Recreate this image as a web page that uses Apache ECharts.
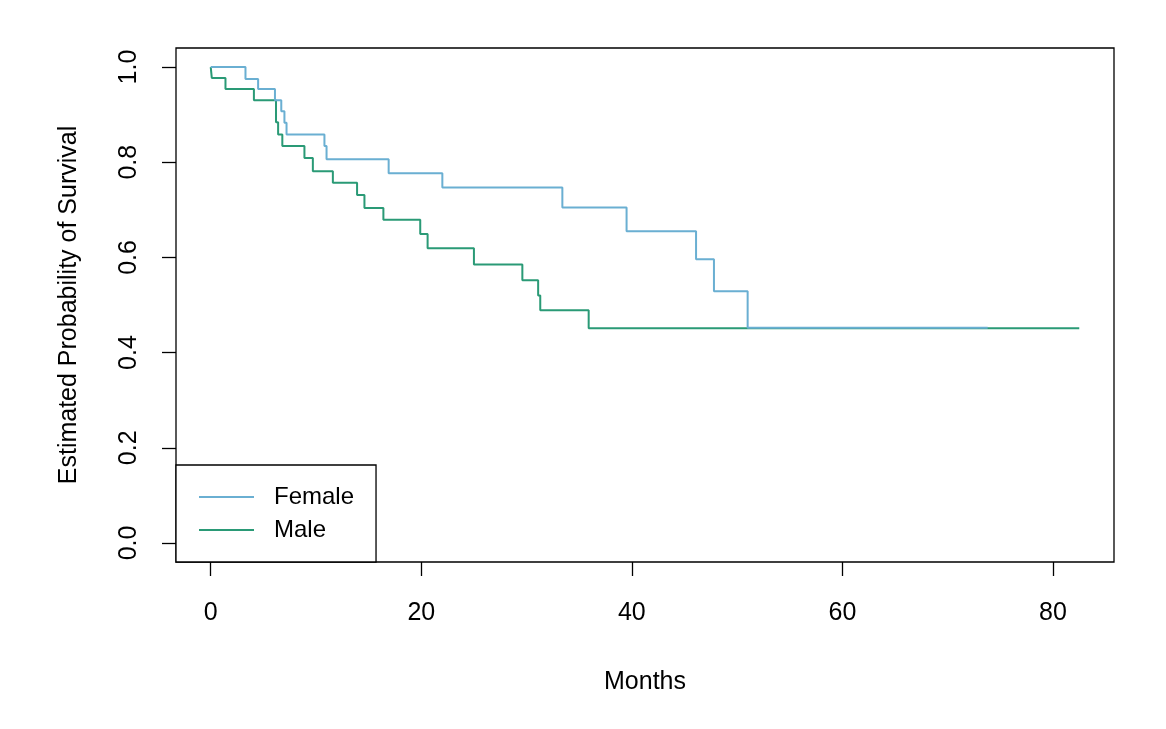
<!DOCTYPE html>
<html>
<head>
<meta charset="utf-8">
<script src="https://cdn.jsdelivr.net/npm/echarts@6/dist/echarts.min.js"></script>
<style>
html,body{margin:0;padding:0;background:#fff;}
#chart{width:1166px;height:729px;}
</style>
</head>
<body>
<div id="chart"></div>
<script>
// Kaplan-Meier step points: [time in months, survival estimate after the event]
const femaleTimes = [0, 3.3, 4.5, 6.1, 6.7, 7.0, 7.2, 10.8, 11.0, 16.9, 22.0, 33.4, 39.5, 46.1, 47.8, 51.0, 73.8];
const femaleSurv  = [1.0, 0.975, 0.954, 0.930, 0.907, 0.883, 0.858, 0.834, 0.806, 0.777, 0.747, 0.705, 0.655, 0.596, 0.529, 0.452, 0.452];
const maleTimes = [0, 0.1, 1.4, 4.1, 6.2, 6.4, 6.8, 8.9, 9.7, 11.6, 13.9, 14.6, 16.4, 19.9, 20.6, 25.0, 29.6, 31.1, 31.3, 35.9, 82.5];
const maleSurv  = [1.0, 0.977, 0.954, 0.930, 0.884, 0.858, 0.834, 0.809, 0.781, 0.757, 0.731, 0.704, 0.679, 0.649, 0.619, 0.585, 0.552, 0.520, 0.489, 0.451, 0.451];
const seriesNames = ['Female', 'Male'];
const xTicks = [0, 20, 40, 60, 80];
const yTicks = [0, 0.2, 0.4, 0.6, 0.8, 1.0];

const femaleData = femaleTimes.map((t, i) => [t, femaleSurv[i]]);
const maleData = maleTimes.map((t, i) => [t, maleSurv[i]]);

const FONT = '"Liberation Sans", Arial, Helvetica, sans-serif';
const chart = echarts.init(document.getElementById('chart'), null, {renderer: 'canvas'});
chart.setOption({
  animation: false,
  backgroundColor: '#fff',
  grid: {left: 176, top: 48, width: 938, height: 514, show: true, borderColor: '#000', borderWidth: 1.3, backgroundColor: 'transparent'},
  xAxis: {
    type: 'value', min: -3.3, max: 85.8,
    name: 'Months', nameLocation: 'middle', nameGap: 108,
    nameTextStyle: {fontFamily: FONT, fontSize: 25, color: '#000'},
    axisLine: {show: false, onZero: false},
    splitLine: {show: false},
    axisTick: {show: true, inside: false, length: 14, customValues: xTicks, lineStyle: {color: '#000', width: 1.3}},
    axisLabel: {show: true, customValues: xTicks, margin: 39, fontFamily: FONT, fontSize: 25, color: '#000',
      formatter: v => String(v)}
  },
  yAxis: {
    type: 'value', min: -0.04, max: 1.04,
    name: 'Estimated Probability of Survival', nameLocation: 'middle', nameGap: 94, nameRotate: 90,
    nameTextStyle: {fontFamily: FONT, fontSize: 25, color: '#000'},
    axisLine: {show: false, onZero: false},
    splitLine: {show: false},
    axisTick: {show: true, inside: false, length: 14, customValues: yTicks, lineStyle: {color: '#000', width: 1.3}},
    axisLabel: {show: true, customValues: yTicks, rotate: 90, margin: 34, fontFamily: FONT, fontSize: 25, color: '#000',
      formatter: v => v.toFixed(1)}
  },
  legend: {
    data: seriesNames,
    orient: 'vertical',
    left: 176, top: 465,
    padding: [20, 22, 20, 23],
    itemGap: 9,
    itemWidth: 55, itemHeight: 2,
    icon: 'rect',
    backgroundColor: '#fff',
    borderColor: '#000', borderWidth: 1.3, borderRadius: 0,
    textStyle: {fontFamily: FONT, fontSize: 24, color: '#000', padding: [0, 0, 0, 15]}
  },
  series: [
    {name: seriesNames[0], type: 'line', step: 'end', data: femaleData, symbol: 'none',
      color: '#6aafd2', lineStyle: {color: '#6aafd2', width: 2}, z: 3},
    {name: seriesNames[1], type: 'line', step: 'end', data: maleData, symbol: 'none',
      color: '#2a9a76', lineStyle: {color: '#2a9a76', width: 2}, z: 2}
  ]
});
</script>
</body>
</html>
